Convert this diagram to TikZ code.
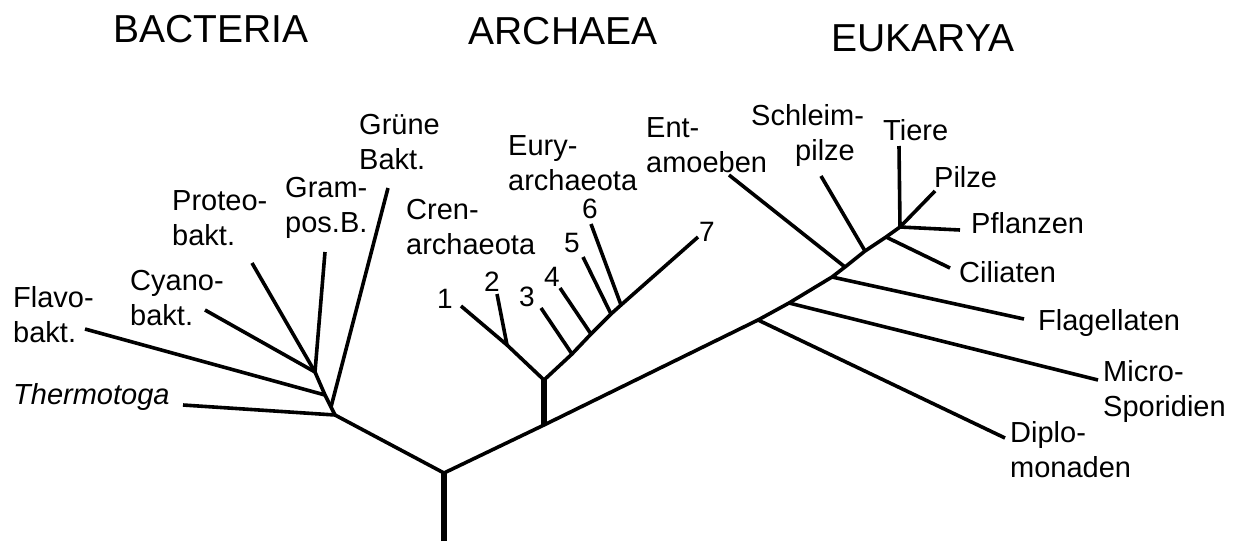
\documentclass[tikz,border=0pt]{standalone}
\usepackage{fontspec}
\setmainfont{Liberation Sans}
\begin{document}
\begin{tikzpicture}[x=1pt,y=-1pt,
  br/.style={line width=3.6pt,line cap=butt,line join=miter},
  thick stem/.style={line width=5.5pt},
  lbl/.style={inner sep=0pt,anchor=west,align=left,font=\fontsize{29}{35}\selectfont},
  num/.style={inner sep=0pt,anchor=center,font=\fontsize{28}{32}\selectfont},
  hdr/.style={inner sep=0pt,anchor=center,font=\fontsize{39}{45}\selectfont}]
\useasboundingbox (0,0) rectangle (1238,541);
% headers
\node[hdr] (hB) at (211,29) {BACTERIA};
\node[hdr] (hA) at (563,31) {ARCHAEA};
\node[hdr] (hE) at (923,38) {EUKARYA};
% root and trunk coordinates
\coordinate (rb) at (444,541);
\coordinate (R) at (444,473);
\coordinate (B0) at (335,415);
\coordinate (Bg) at (331,407);
\coordinate (B1) at (325,395);
\coordinate (B2) at (315,372);
\coordinate (A1) at (544,425);
\coordinate (A0) at (544,380);
\coordinate (C1) at (507,345);
\coordinate (n3) at (572,354);
\coordinate (n4) at (591,334);
\coordinate (n5) at (611,314);
\coordinate (n6) at (621,305);
\coordinate (E1) at (758,320);
\coordinate (E2) at (789,303);
\coordinate (E3) at (832,277);
\coordinate (E4) at (845,267);
\coordinate (E5) at (865,251);
\coordinate (E6) at (886,237);
\coordinate (E7) at (900,227);
% tips
\coordinate (tThermo) at (183,405);
\coordinate (tFlavo) at (85,329);
\coordinate (tCyano) at (205,310);
\coordinate (tProteo) at (252,263);
\coordinate (tGram) at (325,252);
\coordinate (tGruene) at (388,188);
\coordinate (t1) at (461,306);
\coordinate (t2) at (497,294);
\coordinate (t3) at (541,308);
\coordinate (t4) at (560,288);
\coordinate (t5) at (583,257);
\coordinate (t6) at (591,224);
\coordinate (t7) at (698,237);
\coordinate (tEnt) at (729,175);
\coordinate (tSchleim) at (821,176);
\coordinate (tTiere) at (899,146);
\coordinate (tPilze) at (935,191);
\coordinate (tPflanzen) at (960,230);
\coordinate (tCiliaten) at (950,268);
\coordinate (tFlag) at (1024,319);
\coordinate (tMicro) at (1098,380);
\coordinate (tDiplo) at (1005,438);
% stems
\draw[thick stem] (rb) -- (R);
\draw[thick stem] (A1) -- (A0);
% main trunk
\draw[br] (B0) -- (R) -- (A1) -- (E1) -- (E2) -- (E3) -- (E4) -- (E5) -- (E6) -- (E7);
% bacteria
\draw[br] (B2) -- (B1) -- (Bg) -- (B0);
\draw[br] (B0) -- (tThermo);
\draw[br] (Bg) -- (tGruene);
\draw[br] (B1) -- (tFlavo);
\draw[br] (B2) -- (tCyano);
\draw[br] (B2) -- (tProteo);
\draw[br] (B2) -- (tGram);
% archaea
\draw[br] (A0) -- (C1) -- (t1);
\draw[br] (C1) -- (t2);
\draw[br] (A0) -- (n3) -- (n4) -- (n5) -- (n6) -- (t7);
\draw[br] (n3) -- (t3);
\draw[br] (n4) -- (t4);
\draw[br] (n5) -- (t5);
\draw[br] (n6) -- (t6);
% eukarya
\draw[br] (E1) -- (tDiplo);
\draw[br] (E2) -- (tMicro);
\draw[br] (E3) -- (tFlag);
\draw[br] (E4) -- (tEnt);
\draw[br] (E5) -- (tSchleim);
\draw[br] (E6) -- (tCiliaten);
\draw[br] (E7) -- (tTiere);
\draw[br] (E7) -- (tPilze);
\draw[br] (E7) -- (tPflanzen);
% labels
\node[lbl] (lFlavo) at (13,315) {Flavo-\\bakt.};
\node[lbl] (lThermo) at (13,397) {\itshape Thermotoga};
\node[lbl] (lCyano) at (130,298) {Cyano-\\bakt.};
\node[lbl] (lProteo) at (172,218) {Proteo-\\bakt.};
\node[lbl] (lGram) at (285,208) {Gram-\\pos.B.};
\node[lbl] (lGruene) at (359,142) {Grüne\\Bakt.};
\node[lbl] (lCren) at (406,227) {Cren-\\archaeota};
\node[lbl] (lEury) at (508,163) {Eury-\\archaeota};
\node[lbl] (lEnt) at (646,145) {Ent-\\amoeben};
\node[lbl] (lSchleim) at (751,135) {Schleim-\\\hspace*{44pt}pilze};
\node[lbl] (lTiere) at (883,130) {Tiere};
\node[lbl] (lPilze) at (934,177) {Pilze};
\node[lbl] (lPflanzen) at (971,223) {Pflanzen};
\node[lbl] (lCiliaten) at (959,272) {Ciliaten};
\node[lbl] (lFlag) at (1038,323) {Flagellaten};
\node[lbl] (lMicro) at (1103,391) {Micro-\\Sporidien};
\node[lbl] (lDiplo) at (1010,450) {Diplo-\\monaden};
% numbers
\node[num] (l1) at (445,299) {1};
\node[num] (l2) at (492,282) {2};
\node[num] (l3) at (527,297) {3};
\node[num] (l4) at (552,277) {4};
\node[num] (l5) at (572,243) {5};
\node[num] (l6) at (590,209) {6};
\node[num] (l7) at (707,232) {7};
\end{tikzpicture}
\end{document}
